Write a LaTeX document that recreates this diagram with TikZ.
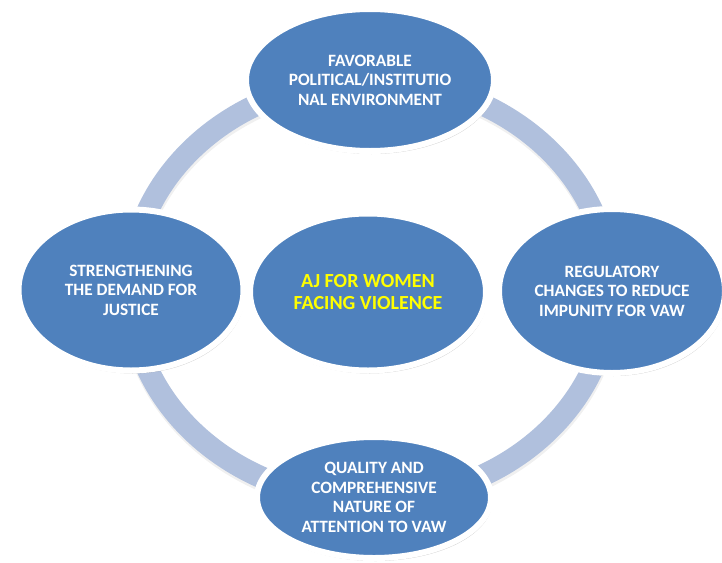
\documentclass[tikz,border=0pt]{standalone}
\usepackage{fontspec}
\setmainfont{Carlito}
\usetikzlibrary{shapes.geometric,shadows}
\definecolor{nodeblue}{RGB}{79,129,189}
\definecolor{ringblue}{RGB}{176,192,221}
\definecolor{hubtext}{RGB}{255,255,0}
\begin{document}
\begin{tikzpicture}[x=1pt,y=-1pt,
  bubble/.style={ellipse, fill=nodeblue, draw=white, line width=6pt, inner sep=0pt,
    align=center, text=white, font=\bfseries\fontsize{17.3}{19.5}\selectfont,
    drop shadow={shadow xshift=1.5pt, shadow yshift=-3pt, opacity=0.2, fill=black}},
  hub/.style={bubble, text=hubtext, font=\bfseries\fontsize{20}{22}\selectfont},
  ring/.style={draw=ringblue, line width=22pt},
  ringshade/.style={draw=black, opacity=0.06, line width=23pt}]
\useasboundingbox (0,0) rectangle (722,562);
\clip (0,0) rectangle (722,562);
% ring
\draw[ringshade] (370.5,292.5) ellipse [x radius=240pt, y radius=210pt];
\draw[ring] (370,290) ellipse [x radius=240pt, y radius=210pt];
% nodes
\node[bubble, minimum width=248pt, minimum height=142pt] (top) at (370,80)
  {FAVORABLE\\POLITICAL/INSTITUTIO\\NAL ENVIRONMENT};
\node[bubble, minimum width=225pt, minimum height=161pt] (left) at (131,290)
  {STRENGTHENING\\THE DEMAND FOR\\JUSTICE};
\node[hub, minimum width=236pt, minimum height=157pt] (hub) at (368,292)
  {AJ FOR WOMEN\\FACING VIOLENCE};
\node[bubble, minimum width=226pt, minimum height=164pt] (right) at (612,291)
  {REGULATORY\\CHANGES TO REDUCE\\IMPUNITY FOR VAW};
\node[bubble, minimum width=234pt, minimum height=121pt] (bottom) at (374,497.5)
  {QUALITY AND\\COMPREHENSIVE\\NATURE OF\\ATTENTION TO VAW};
\end{tikzpicture}
\end{document}
